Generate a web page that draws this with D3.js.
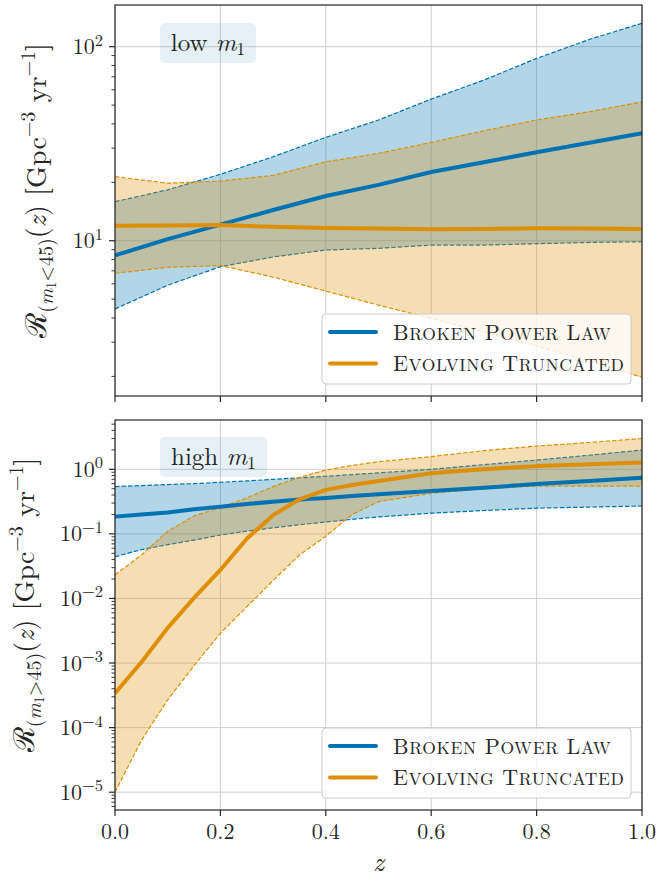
<!DOCTYPE html>
<html><head><meta charset="utf-8">
<script src="https://cdn.jsdelivr.net/npm/d3@7"></script>
<style>body{margin:0;background:#fff} svg{display:block}</style>
</head><body>
<script>
// ---------- data ----------
const xTicks = [0, 0.2, 0.4, 0.6, 0.8, 1.0];
const xTickLabels = ["0.0", "0.2", "0.4", "0.6", "0.8", "1.0"];
const seriesNames = ["Broken Power Law", "Evolving Truncated"];

// top panel: m1 < 45
const lowZ      = [0, 0.1, 0.2, 0.3, 0.4, 0.5, 0.6, 0.7, 0.8, 0.9, 1.0];
const lowBplMed = [8.4, 10.2, 12.1, 14.4, 17.0, 19.4, 22.6, 25.4, 28.6, 32.0, 35.8];
const lowBplHi  = [15.9, 18.3, 22.0, 27.1, 34.1, 41.9, 53.7, 67.3, 87, 109, 132];
const lowBplLo  = [4.45, 5.9, 7.35, 8.25, 8.96, 9.14, 9.5, 9.5, 9.66, 9.8, 9.88];
const lowEvoMed = [11.95, 12.0, 12.05, 11.8, 11.65, 11.55, 11.45, 11.5, 11.6, 11.55, 11.5];
const lowEvoHi  = [21.4, 19.8, 20.3, 21.7, 25.5, 28.2, 32.1, 36.9, 41.9, 46.2, 52];
const lowEvoLo  = [6.8, 7.3, 7.45, 6.5, 5.5, 4.66, 3.98, 3.39, 2.87, 2.4, 1.98];

// bottom panel: m1 > 45
const highZ      = [0, 0.05, 0.1, 0.15, 0.2, 0.25, 0.3, 0.35, 0.4, 0.45, 0.5, 0.6, 0.7, 0.8, 0.9, 1.0];
const highBplMed = [0.185, 0.2, 0.215, 0.24, 0.264, 0.29, 0.315, 0.34, 0.36, 0.385, 0.41, 0.46, 0.52, 0.59, 0.66, 0.74];
const highBplHi  = [0.54, 0.56, 0.58, 0.6, 0.63, 0.66, 0.7, 0.74, 0.78, 0.83, 0.88, 1.0, 1.18, 1.39, 1.65, 1.99];
const highBplLo  = [0.0443, 0.057, 0.068, 0.08, 0.096, 0.11, 0.124, 0.138, 0.153, 0.168, 0.183, 0.209, 0.23, 0.25, 0.26, 0.27];
const highEvoMed = [3.4e-4, 1.03e-3, 3.5e-3, 0.0102, 0.0276, 0.084, 0.195, 0.343, 0.48, 0.57, 0.66, 0.87, 1.0, 1.12, 1.2, 1.27];
const highEvoHi  = [0.0231, 0.047, 0.11, 0.19, 0.255, 0.36, 0.54, 0.75, 0.97, 1.15, 1.31, 1.57, 1.95, 2.29, 2.6, 3.0];
const highEvoLo  = [1e-5, 6.3e-5, 2.7e-4, 9.1e-4, 2.9e-3, 7.4e-3, 0.019, 0.047, 0.092, 0.2, 0.315, 0.425, 0.5, 0.55, 0.55, 0.55];

// ---------- drawing ----------
const W = 659, H = 879;
const FONT = "Latin Modern Roman, CMU Serif, Liberation Serif, serif";
const BLUE = "#0173b2", ORANGE = "#de8f05", AXIS = "#262626";
const svg = d3.select("body").append("svg").attr("width", W).attr("height", H);

const x = d3.scaleLinear().domain([0, 1]).range([115, 642]);

function txt(g) {
  return g.append("text").attr("font-family", FONT).attr("fill", AXIS);
}
function rich(sel, parts) {
  let prev = 0;
  parts.forEach(p => {
    const sh = p.shift || 0;
    const t = sel.append("tspan").text(p.t).attr("dy", (sh - prev) + "px");
    if (p.size) t.attr("font-size", p.size);
    if (p.italic) t.attr("font-style", "italic");
    if (p.dx) t.attr("dx", p.dx);
    prev = sh;
  });
}
// manual small caps: initial capitals large, the rest uppercase and smaller
function smallCaps(sel, str, big, small) {
  str.split(" ").forEach((w, i) => {
    sel.append("tspan").attr("font-size", big).text((i ? " " : "") + w[0]);
    sel.append("tspan").attr("font-size", small).text(w.slice(1).toUpperCase());
  });
}

function panel(cfg) {
  const y = d3.scaleLog().domain(cfg.domain).range(cfg.range);
  const g = svg.append("g");
  const [x0, x1] = x.range();
  const [yb, yt] = cfg.range;
  const lo = Math.ceil(Math.log10(cfg.domain[0])), hi = Math.floor(Math.log10(cfg.domain[1]));
  const majors = d3.range(lo, hi + 1).map(e => Math.pow(10, e));
  const minors = [];
  for (let e = lo - 1; e <= hi; e++) for (let k = 2; k <= 9; k++) {
    const v = k * Math.pow(10, e);
    if (v >= cfg.domain[0] && v <= cfg.domain[1]) minors.push(v);
  }
  // grid
  g.selectAll(".gx").data(xTicks).join("line")
    .attr("x1", d => x(d)).attr("x2", d => x(d)).attr("y1", yt).attr("y2", yb)
    .attr("stroke", "#cfcfcf").attr("stroke-width", 1);
  g.selectAll(".gy").data(majors).join("line")
    .attr("x1", x0).attr("x2", x1).attr("y1", d => y(d)).attr("y2", d => y(d))
    .attr("stroke", "#cfcfcf").attr("stroke-width", 1);

  const series = [
    {c: BLUE, z: cfg.z1, med: cfg.m1, hi: cfg.h1, lo: cfg.l1},
    {c: ORANGE, z: cfg.z2, med: cfg.m2, hi: cfg.h2, lo: cfg.l2}
  ];
  series.forEach(s => {
    const idx = d3.range(s.z.length);
    g.append("path").datum(idx)
      .attr("d", d3.area().x(i => x(s.z[i])).y0(i => y(s.lo[i])).y1(i => y(s.hi[i])))
      .attr("fill", s.c).attr("fill-opacity", 0.3);
    [s.hi, s.lo].forEach(arr => {
      g.append("path").datum(idx)
        .attr("d", d3.line().x(i => x(s.z[i])).y(i => y(arr[i])))
        .attr("fill", "none").attr("stroke", s.c).attr("stroke-width", 1.2)
        .attr("stroke-dasharray", "4.5,2");
    });
  });
  series.forEach(s => {
    const idx = d3.range(s.z.length);
    g.append("path").datum(idx)
      .attr("d", d3.line().x(i => x(s.z[i])).y(i => y(s.med[i])))
      .attr("fill", "none").attr("stroke", s.c).attr("stroke-width", 4)
      .attr("stroke-linejoin", "round");
  });

  // frame
  g.append("rect").attr("x", x0).attr("y", yt).attr("width", x1 - x0).attr("height", yb - yt)
    .attr("fill", "none").attr("stroke", AXIS).attr("stroke-width", 1.2);
  // x ticks
  g.selectAll(".tx").data(xTicks).join("line")
    .attr("x1", d => x(d)).attr("x2", d => x(d)).attr("y1", yb).attr("y2", yb + 6)
    .attr("stroke", AXIS).attr("stroke-width", 1.2);
  if (cfg.xlabels) {
    xTicks.forEach((d, i) => {
      txt(g).attr("x", x(d)).attr("y", yb + 29).attr("text-anchor", "middle")
        .attr("font-size", 22).text(xTickLabels[i]);
    });
  }
  // y ticks
  g.selectAll(".ty").data(majors).join("line")
    .attr("x1", x0 - 6).attr("x2", x0).attr("y1", d => y(d)).attr("y2", d => y(d))
    .attr("stroke", AXIS).attr("stroke-width", 1.2);
  g.selectAll(".tym").data(minors).join("line")
    .attr("x1", x0 - 3.5).attr("x2", x0).attr("y1", d => y(d)).attr("y2", d => y(d))
    .attr("stroke", AXIS).attr("stroke-width", 0.9);
  majors.forEach(m => {
    const e = Math.round(Math.log10(m));
    const t = txt(g).attr("x", x0 - 12).attr("y", y(m) + 7.5)
      .attr("text-anchor", "end").attr("font-size", 22);
    rich(t, [{t: "10"}, {t: (e < 0 ? "\u2212" : "") + Math.abs(e), size: 16.5, shift: -8.5}]);
  });

  // y label
  const yl = txt(g)
    .attr("transform", `translate(${cfg.ylx},${(yt + yb) / 2 - 10}) rotate(-90)`)
    .attr("text-anchor", "middle").attr("font-size", 28);
  rich(yl, [
    {t: "\u211B", size: 29},
    {t: "(", size: 20, shift: 7},
    {t: "m", size: 20, italic: true, shift: 7},
    {t: "1", size: 14, shift: 10},
    {t: cfg.cmp + "45)", size: 20, shift: 7},
    {t: "(", shift: 0},
    {t: "z", italic: true},
    {t: ") [Gpc"},
    {t: "\u22123", size: 20, shift: -11},
    {t: " yr", shift: 0},
    {t: "\u22121", size: 20, shift: -11},
    {t: "]", shift: 0}
  ]);

  // annotation box
  const bx = cfg.box;
  g.append("rect").attr("x", bx[0]).attr("y", bx[1]).attr("width", bx[2]).attr("height", bx[3])
    .attr("rx", 5).attr("fill", BLUE).attr("fill-opacity", 0.1);
  const at = txt(g).attr("x", bx[0] + bx[2] / 2).attr("y", bx[1] + 28)
    .attr("text-anchor", "middle").attr("font-size", 25);
  rich(at, [{t: cfg.boxLabel + " "}, {t: "m", italic: true}, {t: "1", size: 18, shift: 4}]);

  // legend
  const L = cfg.legend;
  g.append("rect").attr("x", L[0]).attr("y", L[1]).attr("width", 309).attr("height", 70)
    .attr("rx", 4).attr("fill", "#fff").attr("fill-opacity", 0.8)
    .attr("stroke", "#cccccc").attr("stroke-width", 1);
  [BLUE, ORANGE].forEach((c, i) => {
    const yy = L[1] + 18 + i * 31.5;
    g.append("line").attr("x1", L[0] + 8).attr("x2", L[0] + 54).attr("y1", yy).attr("y2", yy)
      .attr("stroke", c).attr("stroke-width", 4).attr("stroke-linecap", "round");
    const t = txt(g).attr("x", L[0] + 71).attr("y", yy + 7.5).attr("letter-spacing", 0.6);
    smallCaps(t, seriesNames[i], 22, 17.5);
  });
}

panel({
  domain: [1.585, 164], range: [396, 5], ylx: 46, cmp: "<",
  z1: lowZ, m1: lowBplMed, h1: lowBplHi, l1: lowBplLo,
  z2: lowZ, m2: lowEvoMed, h2: lowEvoHi, l2: lowEvoLo,
  box: [160, 23, 96, 40], boxLabel: "low", legend: [322, 314], xlabels: false
});
panel({
  domain: [5.3e-6, 5.8], range: [810, 420], ylx: 34, cmp: ">",
  z1: highZ, m1: highBplMed, h1: highBplHi, l1: highBplLo,
  z2: highZ, m2: highEvoMed, h2: highEvoHi, l2: highEvoLo,
  box: [160, 437, 107, 40], boxLabel: "high", legend: [322, 728], xlabels: true
});

txt(svg).attr("x", x(0.5)).attr("y", 871).attr("text-anchor", "middle")
  .attr("font-size", 27).attr("font-style", "italic").text("z");
</script>
</body></html>
